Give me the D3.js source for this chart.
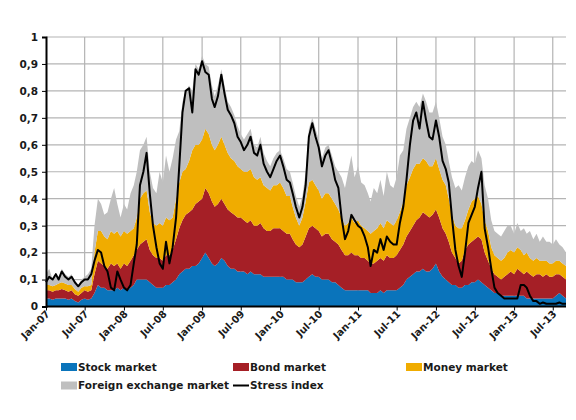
<!DOCTYPE html>
<html>
<head>
<meta charset="utf-8">
<script src="https://cdn.jsdelivr.net/npm/d3@7"></script>
<style>
  body { margin: 0; background: #fff; }
  text { font-family: "DejaVu Sans", Verdana, sans-serif; font-weight: bold; fill: #1a1a1a; }
</style>
</head>
<body>
<svg width="576" height="420"></svg>
<script>
// semi-monthly readings, 1st and 16th of each month, Jan 2007 .. Sep 2013
const stock = [
  0.03,0.03,0.025,0.03,0.03,0.03,0.03,0.025,0.03,0.02,
  0.015,0.025,0.03,0.025,0.03,0.05,0.08,0.07,0.07,0.06,
  0.06,0.06,0.07,0.06,0.07,0.06,0.07,0.08,0.10,0.10,
  0.10,0.10,0.09,0.08,0.07,0.07,0.07,0.08,0.08,0.09,
  0.10,0.12,0.13,0.14,0.14,0.15,0.15,0.16,0.18,0.20,
  0.18,0.16,0.15,0.16,0.18,0.17,0.15,0.14,0.14,0.13,
  0.13,0.13,0.12,0.13,0.12,0.12,0.12,0.11,0.11,0.11,
  0.11,0.11,0.11,0.11,0.10,0.10,0.10,0.09,0.09,0.09,
  0.10,0.11,0.12,0.11,0.11,0.10,0.10,0.10,0.09,0.09,
  0.08,0.07,0.06,0.06,0.06,0.06,0.06,0.06,0.06,0.06,
  0.05,0.05,0.05,0.06,0.05,0.06,0.06,0.06,0.06,0.07,
  0.08,0.10,0.11,0.12,0.13,0.13,0.14,0.13,0.13,0.14,
  0.16,0.13,0.11,0.10,0.09,0.08,0.08,0.07,0.07,0.08,
  0.08,0.09,0.09,0.10,0.09,0.08,0.07,0.06,0.05,0.05,
  0.04,0.04,0.04,0.04,0.04,0.04,0.04,0.04,0.03,0.03,
  0.03,0.03,0.03,0.03,0.03,0.03,0.03,0.04,0.05,0.04,
  0.03
];
const bond = [
  0.03,0.03,0.03,0.03,0.03,0.035,0.03,0.03,0.03,0.025,
  0.025,0.025,0.03,0.03,0.03,0.07,0.09,0.09,0.08,0.08,
  0.10,0.09,0.09,0.08,0.09,0.09,0.10,0.11,0.11,0.13,
  0.14,0.15,0.12,0.11,0.11,0.11,0.10,0.11,0.11,0.12,
  0.15,0.17,0.19,0.20,0.21,0.21,0.23,0.23,0.22,0.24,
  0.24,0.23,0.22,0.22,0.22,0.21,0.21,0.21,0.20,0.20,
  0.20,0.19,0.19,0.19,0.18,0.18,0.19,0.18,0.17,0.17,
  0.18,0.18,0.18,0.17,0.17,0.17,0.15,0.14,0.13,0.14,
  0.16,0.18,0.18,0.18,0.17,0.16,0.17,0.17,0.16,0.15,
  0.15,0.14,0.13,0.13,0.14,0.13,0.13,0.12,0.12,0.11,
  0.11,0.11,0.12,0.12,0.12,0.13,0.12,0.12,0.13,0.14,
  0.15,0.16,0.17,0.18,0.19,0.20,0.21,0.21,0.20,0.20,
  0.20,0.20,0.18,0.17,0.15,0.12,0.10,0.09,0.10,0.13,
  0.15,0.15,0.16,0.16,0.16,0.12,0.10,0.08,0.07,0.06,
  0.06,0.07,0.08,0.09,0.08,0.10,0.09,0.08,0.10,0.09,
  0.08,0.09,0.09,0.08,0.09,0.08,0.08,0.08,0.07,0.07,
  0.07
];
const money = [
  0.02,0.02,0.02,0.02,0.025,0.025,0.025,0.025,0.02,0.02,
  0.015,0.02,0.015,0.02,0.02,0.08,0.11,0.12,0.11,0.11,
  0.12,0.12,0.12,0.12,0.12,0.12,0.11,0.10,0.12,0.17,
  0.18,0.18,0.14,0.12,0.12,0.13,0.13,0.14,0.13,0.12,
  0.15,0.17,0.18,0.17,0.19,0.22,0.22,0.21,0.22,0.22,
  0.22,0.21,0.21,0.22,0.23,0.22,0.21,0.20,0.20,0.19,
  0.18,0.18,0.19,0.19,0.18,0.17,0.17,0.16,0.16,0.15,
  0.16,0.16,0.17,0.16,0.14,0.14,0.12,0.10,0.08,0.10,
  0.13,0.17,0.17,0.16,0.15,0.14,0.15,0.15,0.15,0.14,
  0.13,0.12,0.11,0.12,0.13,0.12,0.13,0.12,0.11,0.11,
  0.11,0.12,0.12,0.13,0.12,0.13,0.13,0.12,0.13,0.14,
  0.16,0.19,0.20,0.21,0.21,0.20,0.20,0.20,0.19,0.18,
  0.19,0.18,0.18,0.18,0.16,0.14,0.12,0.13,0.12,0.11,
  0.13,0.15,0.15,0.15,0.13,0.12,0.11,0.08,0.07,0.07,
  0.07,0.07,0.08,0.08,0.08,0.08,0.08,0.07,0.07,0.06,
  0.06,0.06,0.05,0.06,0.05,0.05,0.05,0.05,0.05,0.05,
  0.05
];
const fx = [
  0.04,0.06,0.025,0.04,0.025,0.05,0.035,0.03,0.04,0.025,
  0.025,0.03,0.035,0.045,0.06,0.10,0.12,0.10,0.08,0.10,
  0.12,0.17,0.10,0.07,0.10,0.09,0.14,0.16,0.17,0.18,
  0.18,0.20,0.15,0.13,0.12,0.19,0.16,0.23,0.18,0.22,
  0.22,0.19,0.26,0.29,0.28,0.22,0.30,0.28,0.31,0.24,
  0.25,0.22,0.20,0.22,0.25,0.22,0.19,0.19,0.17,0.15,
  0.13,0.12,0.14,0.15,0.12,0.12,0.15,0.12,0.10,0.09,
  0.10,0.12,0.12,0.11,0.10,0.09,0.09,0.08,0.07,0.08,
  0.11,0.20,0.23,0.21,0.19,0.15,0.17,0.18,0.16,0.14,
  0.14,0.15,0.14,0.19,0.23,0.17,0.20,0.16,0.16,0.14,
  0.12,0.16,0.13,0.16,0.12,0.18,0.14,0.14,0.16,0.21,
  0.19,0.21,0.22,0.23,0.23,0.21,0.24,0.22,0.20,0.20,
  0.21,0.19,0.16,0.15,0.14,0.14,0.14,0.16,0.14,0.16,
  0.16,0.15,0.13,0.17,0.17,0.13,0.12,0.10,0.09,0.09,
  0.09,0.10,0.10,0.09,0.07,0.09,0.07,0.10,0.07,0.10,
  0.08,0.09,0.07,0.09,0.07,0.08,0.07,0.08,0.06,0.06,
  0.05
];
const stress = [
  0.09,0.11,0.10,0.12,0.10,0.13,0.11,0.10,0.11,0.09,
  0.075,0.09,0.10,0.10,0.12,0.17,0.21,0.20,0.15,0.13,
  0.07,0.06,0.13,0.10,0.07,0.06,0.08,0.16,0.23,0.45,
  0.50,0.57,0.42,0.30,0.22,0.16,0.14,0.24,0.16,0.22,
  0.33,0.52,0.72,0.80,0.81,0.72,0.88,0.86,0.91,0.87,
  0.86,0.77,0.74,0.78,0.86,0.79,0.73,0.71,0.68,0.63,
  0.61,0.58,0.60,0.63,0.57,0.56,0.60,0.53,0.50,0.48,
  0.51,0.54,0.56,0.52,0.47,0.46,0.42,0.37,0.33,0.37,
  0.45,0.63,0.68,0.63,0.59,0.52,0.56,0.58,0.53,0.47,
  0.44,0.33,0.25,0.28,0.34,0.32,0.30,0.29,0.26,0.22,
  0.15,0.21,0.20,0.25,0.21,0.26,0.24,0.23,0.23,0.31,
  0.37,0.47,0.60,0.69,0.72,0.66,0.76,0.69,0.63,0.62,
  0.69,0.63,0.54,0.51,0.46,0.33,0.21,0.15,0.11,0.20,
  0.31,0.34,0.37,0.44,0.50,0.29,0.22,0.14,0.07,0.05,
  0.04,0.03,0.03,0.03,0.03,0.03,0.08,0.08,0.07,0.04,
  0.02,0.02,0.01,0.015,0.01,0.01,0.01,0.01,0.015,0.01,
  0.01
];

const keys = ['stock', 'bond', 'money', 'fx'];
const labels = ['Stock market', 'Bond market', 'Money market', 'Foreign exchange market', 'Stress index'];
const colors = {stock: '#0a74bb', bond: '#a51f26', money: '#f0ac00', fx: '#bfbfbf'};
const yTicks = [0, 0.1, 0.2, 0.3, 0.4, 0.5, 0.6, 0.7, 0.8, 0.9, 1];

const dates = stock.map((_, i) => new Date(2007, Math.floor(i / 2), i % 2 ? 16 : 1));
const rows = dates.map((d, i) => ({date: d, stock: stock[i], bond: bond[i], money: money[i], fx: fx[i], stress: stress[i]}));

const svg = d3.select('svg');
const plotL = 46, plotR = 566, plotT = 37, plotB = 306.5;

//-------------- SCALES ---------------------------------
const x = d3.scaleTime()
  .domain([new Date(2007, 0, 1), new Date(2013, 8, 1)])
  .range([plotL, plotR]);
const y = d3.scaleLinear().domain([0, 1]).range([plotB, plotT]);

const xTicks = d3.timeMonth.range(new Date(2007, 0, 1), new Date(2013, 7, 1), 6);

//-------------- GRID -----------------------------------
const grid = svg.append('g').attr('stroke', '#b4b4b4').attr('stroke-width', 1.2);
grid.selectAll('.h').data(yTicks.slice(1)).join('line')
  .attr('x1', plotL).attr('x2', plotR)
  .attr('y1', d => y(d)).attr('y2', d => y(d));
grid.selectAll('.v').data(xTicks.slice(1)).join('line')
  .attr('x1', d => x(d)).attr('x2', d => x(d))
  .attr('y1', plotT).attr('y2', plotB);

//-------------- AREAS ----------------------------------
const stacked = d3.stack().keys(keys)(rows);
const area = d3.area()
  .x(d => x(d.data.date))
  .y0(d => y(d[0]))
  .y1(d => y(d[1]));

svg.append('g').selectAll('path').data(stacked).join('path')
  .attr('fill', d => colors[d.key])
  .attr('d', area);

const line = d3.line().x(d => x(d.date)).y(d => y(d.stress));
svg.append('path').datum(rows)
  .attr('fill', 'none')
  .attr('stroke', '#000')
  .attr('stroke-width', 2)
  .attr('stroke-linejoin', 'round')
  .attr('d', line);

//-------------- AXES -----------------------------------
const fmt = d => (d === 0 || d === 1) ? String(d) : d.toFixed(1).replace('.', ',');

const axisY = svg.append('g')
  .attr('transform', 'translate(' + plotL + ',0)')
  .call(d3.axisLeft(y).tickValues(yTicks).tickFormat(fmt).tickSize(4).tickPadding(4));
axisY.select('.domain').attr('stroke-width', 2);
axisY.selectAll('text').style('font-size', '10.5px');

const axisX = svg.append('g')
  .attr('transform', 'translate(0,' + plotB + ')')
  .call(d3.axisBottom(x).tickValues(xTicks).tickFormat(d3.timeFormat('%b-%y')).tickSize(4));
axisX.select('.domain').attr('stroke-width', 2).attr('d', 'M' + plotL + ',0H' + plotR);
axisX.selectAll('text')
  .style('font-size', '10px')
  .attr('text-anchor', 'end')
  .attr('dy', null)
  .attr('transform', 'translate(4,8) rotate(-45)')
  .attr('y', 0).attr('x', 0);
svg.selectAll('.tick line').attr('stroke', '#000');

//-------------- LEGEND ---------------------------------
const legendPos = [[61, 367], [233, 367], [406, 367], [61, 385.5], [233, 385.5]];
const legend = svg.append('g').selectAll('g').data(labels).join('g')
  .attr('transform', (d, i) => 'translate(' + legendPos[i][0] + ',' + legendPos[i][1] + ')');
legend.each(function(d, i) {
  const g = d3.select(this);
  if (i < 4) {
    g.append('rect').attr('x', 0).attr('y', -4).attr('width', 16).attr('height', 8).attr('fill', colors[keys[i]]);
  } else {
    g.append('line').attr('x1', 0).attr('x2', 16).attr('stroke', '#000').attr('stroke-width', 2);
  }
  g.append('text').attr('x', 17).attr('dy', '0.36em').style('font-size', '10.5px').text(d);
});
</script>
</body>
</html>
